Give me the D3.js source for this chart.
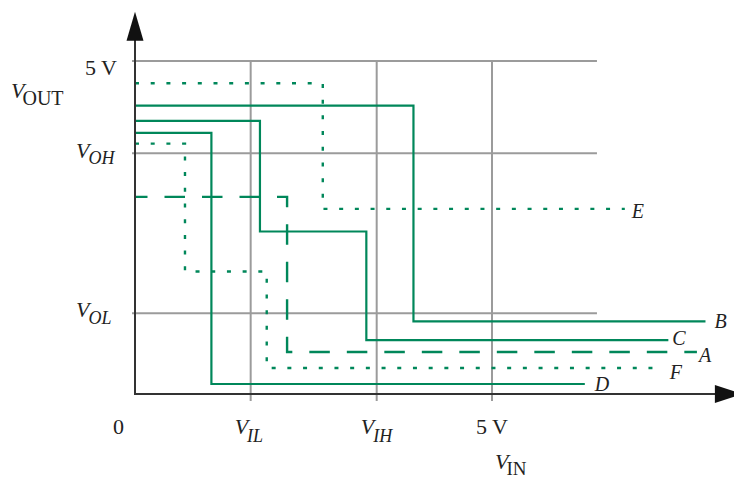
<!DOCTYPE html>
<html>
<head>
<meta charset="utf-8">
<script src="https://cdn.jsdelivr.net/npm/d3@7"></script>
<style>
  html, body { margin: 0; padding: 0; background: #fff; }
  svg { display: block; }
  text { font-family: "Liberation Serif", "DejaVu Serif", serif; fill: #222; }
</style>
</head>
<body>
<svg id="chart" width="734" height="478"></svg>
<script>
// ---------- data (volts) ----------
const curveNames = ["A", "B", "C", "D", "E", "F"];
const curveStyles = ["dashed", "solid", "solid", "solid", "dotted", "dotted"];
// step vertices: x = input voltage where level starts, y = output level
const curveA_x = [0, 2.13, 7.87];              const curveA_y = [2.96, 0.63, 0.63];
const curveB_x = [0, 3.90, 7.99];              const curveB_y = [4.33, 1.09, 1.09];
const curveC_x = [0, 1.75, 3.24, 7.47];        const curveC_y = [4.10, 2.44, 0.81, 0.81];
const curveD_x = [0, 1.07, 6.30];              const curveD_y = [3.92, 0.15, 0.15];
const curveE_x = [0, 2.63, 6.86];              const curveE_y = [4.665, 2.78, 2.78];
const curveF_x = [0, 0.70, 1.845, 7.35];       const curveF_y = [3.76, 1.84, 0.39, 0.39];

const xGridValues = [1.62, 3.385, 5];      // V_IL, V_IH, 5 V
const xTickLabels = ["IL", "IH", "5 V"];
const yGridValues = [5, 3.614, 1.212];     // 5 V, V_OH, V_OL
const yTickLabels = ["5 V", "OH", "OL"];
const gridMaxX = 6.47;
const axisMaxX = 8.5;
const axisMaxY = 5.74;

// ---------- layout ----------
const svg = d3.select("#chart");
const x = d3.scaleLinear().domain([0, 5]).range([135, 492]);
const y = d3.scaleLinear().domain([0, 5]).range([394, 61]);
const green = "#00875a";
const gridColor = "#9b9b9b";
const axisColor = "#333";

const curves = curveNames.map((n, i) => {
  const xs = [curveA_x, curveB_x, curveC_x, curveD_x, curveE_x, curveF_x][i];
  const ys = [curveA_y, curveB_y, curveC_y, curveD_y, curveE_y, curveF_y][i];
  return { name: n, style: curveStyles[i], pts: xs.map((v, j) => [v, ys[j]]) };
});

// grid
const grid = svg.append("g");
grid.selectAll("line.h").data(yGridValues).join("line")
  .attr("x1", x(0) - 3).attr("x2", x(gridMaxX))
  .attr("y1", d => y(d)).attr("y2", d => y(d))
  .attr("stroke", gridColor).attr("stroke-width", 2);
grid.selectAll("line.v").data(xGridValues).join("line")
  .attr("x1", d => x(d)).attr("x2", d => x(d))
  .attr("y1", y(5)).attr("y2", y(0) + 7)
  .attr("stroke", gridColor).attr("stroke-width", 2);

// curves
const line = d3.line().x(d => x(d[0])).y(d => y(d[1])).curve(d3.curveStepAfter);
const dashFor = { solid: null, dashed: "20.5,17", dotted: "4,11.7" };
const offFor = { solid: 0, dashed: 8, dotted: 0 };
svg.append("g").selectAll("path").data(curves).join("path")
  .attr("d", d => line(d.pts))
  .attr("fill", "none")
  .attr("stroke", green)
  .attr("stroke-width", d => d.style === "solid" ? 2.2 : 2.4)
  .attr("stroke-dasharray", d => dashFor[d.style])
  .attr("stroke-dashoffset", d => offFor[d.style]);

// curve labels
const labelOffset = { A: [2, 10], B: [9, 7], C: [4, 5], D: [10, 7], E: [7, 9], F: [10, 11] };
svg.append("g").selectAll("text").data(curves).join("text")
  .attr("x", d => x(d.pts[d.pts.length - 1][0]) + labelOffset[d.name][0])
  .attr("y", d => y(d.pts[d.pts.length - 1][1]) + labelOffset[d.name][1])
  .attr("font-size", 20).attr("font-style", "italic")
  .text(d => d.name);

// axes
const ax = svg.append("g");
ax.append("line").attr("x1", x(0)).attr("x2", x(axisMaxX) - 20)
  .attr("y1", y(0)).attr("y2", y(0)).attr("stroke", axisColor).attr("stroke-width", 2);
ax.append("line").attr("x1", x(0)).attr("x2", x(0))
  .attr("y1", y(0) + 1).attr("y2", y(axisMaxY) + 20).attr("stroke", axisColor).attr("stroke-width", 2);
// arrowheads
const yt = y(axisMaxY), xt = x(axisMaxX);
ax.append("path").attr("d", `M${x(0)},${yt} L${x(0) - 8.5},${yt + 29} L${x(0) + 8.5},${yt + 29} Z`).attr("fill", "#111");
ax.append("path").attr("d", `M${xt},${y(0)} L${xt - 27},${y(0) - 9} L${xt - 27},${y(0) + 9} Z`).attr("fill", "#111");

// y labels
const yl = svg.append("g");
yl.append("text").attr("x", 117).attr("y", y(yGridValues[0]) + 14).attr("text-anchor", "end")
  .attr("font-size", 22).text(yTickLabels[0]);
function vLabel(g, x0, base, sub, italicSub, subSize, subDy) {
  const t = g.append("text").attr("x", x0).attr("y", base).attr("font-size", 22);
  t.append("tspan").attr("font-style", "italic").text("V");
  t.append("tspan").attr("font-size", subSize).attr("dy", subDy).attr("dx", italicSub ? -1 : -2)
    .attr("font-style", italicSub ? "italic" : "normal").text(sub);
  return t;
}
vLabel(yl, 76, y(yGridValues[1]) + 5, yTickLabels[1], true, 18, 6);
vLabel(yl, 76, y(yGridValues[2]) + 4, yTickLabels[2], true, 18, 7);
vLabel(yl, 11, 98, "OUT", false, 20, 7);

// x labels
const xl = svg.append("g");
xl.append("text").attr("x", 113).attr("y", 434).attr("font-size", 22).text("0");
vLabel(xl, x(xGridValues[0]) - 16, 434, xTickLabels[0], true, 18, 8);
vLabel(xl, x(xGridValues[1]) - 16, 434, xTickLabels[1], true, 18, 8);
xl.append("text").attr("x", x(xGridValues[2]) - 16).attr("y", 434).attr("font-size", 22).text(xTickLabels[2]);
vLabel(xl, 495, 469, "IN", false, 19, 6);
</script>
</body>
</html>
